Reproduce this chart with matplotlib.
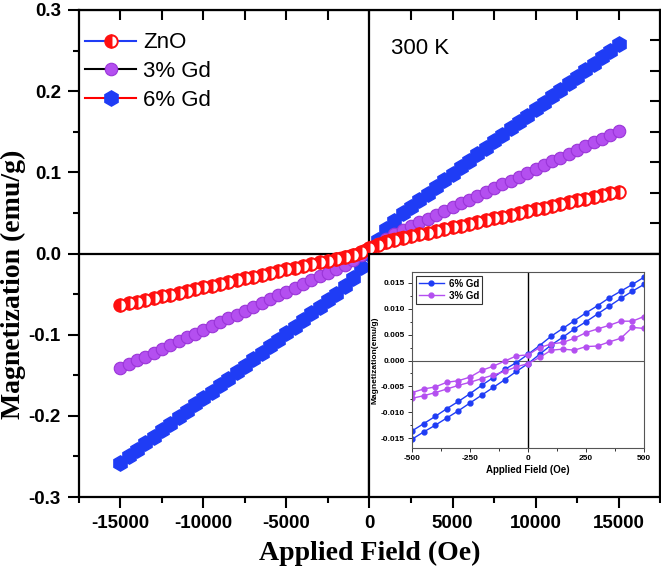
import matplotlib
matplotlib.use('Agg')
import matplotlib.pyplot as plt
from matplotlib.patches import Rectangle
from matplotlib.ticker import MultipleLocator, FixedLocator

plt.rcParams['axes.unicode_minus'] = False
plt.rcParams['font.family'] = 'Liberation Sans'

# main loop, field in Oe
field = [-15000, -14500, -14000, -13500, -13000, -12500, -12000, -11500, -11000, -10500,
         -10000, -9500, -9000, -8500, -8000, -7500, -7000, -6500, -6000, -5500,
         -5000, -4500, -4000, -3500, -3000, -2500, -2000, -1500, -1000, -500,
         0, 500, 1000, 1500, 2000, 2500, 3000, 3500, 4000, 4500,
         5000, 5500, 6000, 6500, 7000, 7500, 8000, 8500, 9000, 9500,
         10000, 10500, 11000, 11500, 12000, 12500, 13000, 13500, 14000, 14500, 15000]

m_zno = [-0.0637, -0.0615, -0.0593, -0.0571, -0.0549, -0.0527, -0.0505, -0.0483, -0.0461, -0.0439,
         -0.0417, -0.0395, -0.0373, -0.0351, -0.0329, -0.0307, -0.0285, -0.0263, -0.0241, -0.0219,
         -0.0197, -0.0175, -0.0153, -0.0131, -0.0109, -0.0087, -0.0065, -0.0041, -0.0015, 0.0019,
         0.0063, 0.0107, 0.0141, 0.0167, 0.0191, 0.0213, 0.0235, 0.0257, 0.0279, 0.0301,
         0.0323, 0.0345, 0.0367, 0.0389, 0.0411, 0.0433, 0.0455, 0.0477, 0.0499, 0.0521,
         0.0543, 0.0565, 0.0587, 0.0609, 0.0631, 0.0653, 0.0675, 0.0697, 0.0719, 0.0741, 0.0763]

m_gd3 = [-0.1410, -0.1363, -0.1316, -0.1269, -0.1222, -0.1175, -0.1128, -0.1081, -0.1034, -0.0987,
         -0.0940, -0.0893, -0.0846, -0.0799, -0.0752, -0.0705, -0.0658, -0.0611, -0.0564, -0.0517,
         -0.0470, -0.0423, -0.0376, -0.0329, -0.0282, -0.0234, -0.0186, -0.0136, -0.0082, -0.0020,
         0.0050, 0.0120, 0.0182, 0.0236, 0.0286, 0.0334, 0.0382, 0.0429, 0.0476, 0.0523,
         0.0570, 0.0617, 0.0664, 0.0711, 0.0758, 0.0805, 0.0852, 0.0899, 0.0946, 0.0993,
         0.1040, 0.1087, 0.1134, 0.1181, 0.1228, 0.1275, 0.1322, 0.1369, 0.1416, 0.1463, 0.1510]

m_gd6 = [-0.258, -0.250, -0.242, -0.234, -0.226, -0.218, -0.210, -0.202, -0.194, -0.186,
         -0.178, -0.170, -0.162, -0.154, -0.146, -0.138, -0.130, -0.122, -0.114, -0.106,
         -0.098, -0.090, -0.082, -0.0739, -0.0659, -0.0578, -0.0494, -0.0403, -0.0297, -0.0163,
         0.0, 0.0163, 0.0297, 0.0403, 0.0494, 0.0578, 0.0659, 0.0739, 0.082, 0.090,
         0.098, 0.106, 0.114, 0.122, 0.130, 0.138, 0.146, 0.154, 0.162, 0.170,
         0.178, 0.186, 0.194, 0.202, 0.210, 0.218, 0.226, 0.234, 0.242, 0.250, 0.258]

# ZnO return branch near zero field
field_zno_ret = [2000, 1750, 1500, 1250, 1000, 750, 500, 250, 0,
                 -250, -500, -750, -1000, -1250, -1500, -1750, -2000]
m_zno_ret = [0.0205, 0.0192, 0.0180, 0.0166, 0.0150, 0.0132, 0.0112, 0.0090, 0.0066,
             0.0042, 0.0020, 0.0000, -0.0018, -0.0032, -0.0044, -0.0055, -0.0066]

# inset, low field
field_in = [-500, -450, -400, -350, -300, -250, -200, -150, -100, -50, 0,
            50, 100, 150, 200, 250, 300, 350, 400, 450, 500]
gd6_up = [-0.0136, -0.0122, -0.0108, -0.0093, -0.0079, -0.0064, -0.0048, -0.0033, -0.0017, -0.0004, 0.0012,
          0.0029, 0.0047, 0.0062, 0.0077, 0.0092, 0.0106, 0.0121, 0.0134, 0.0147, 0.0161]
gd6_dn = [-0.0152, -0.0138, -0.0125, -0.0111, -0.0097, -0.0082, -0.0067, -0.0052, -0.0037, -0.0021, -0.0006,
          0.0012, 0.0030, 0.0045, 0.0061, 0.0075, 0.0090, 0.0105, 0.0120, 0.0134, 0.0147]
gd3_up = [-0.0062, -0.0055, -0.0051, -0.0042, -0.0039, -0.0032, -0.0019, -0.0011, -0.0001, 0.0009, 0.0011,
          0.0025, 0.0032, 0.0035, 0.0043, 0.0054, 0.0061, 0.0068, 0.0076, 0.0076, 0.0085]
gd3_dn = [-0.0073, -0.0068, -0.0062, -0.0055, -0.0048, -0.0042, -0.0035, -0.0028, -0.0021, -0.0012, -0.0006,
          0.0006, 0.0020, 0.0022, 0.0020, 0.0027, 0.0028, 0.0036, 0.0043, 0.0064, 0.0062]

blue = '#1f3cf5'
purple = '#b44ff0'
red = '#ff1010'

fig = plt.figure(figsize=(6.61, 5.70), dpi=100)
ax = fig.add_axes([0.1195, 0.128, 0.879, 0.8545])

ax.axhline(0, color='black', lw=1.6, zorder=1)
ax.axvline(0, color='black', lw=1.6, zorder=1)

ax.plot(field, m_gd6, '-', color='red', lw=1.5, marker='h', ms=11,
        mfc=blue, mec=blue, label='6% Gd', zorder=2)
ax.plot(field, m_gd3, '-', color='black', lw=1.5, marker='o', ms=9,
        mfc=purple, mec='#9a35d8', mew=0.8, label='3% Gd', zorder=2.1)
ax.plot(field_zno_ret, m_zno_ret, '-', color=blue, lw=1.2, marker='o', ms=8.5,
        fillstyle='left', mfc=red, mfcalt='white', mec=red, mew=1.2, zorder=2.2)
ax.plot(field, m_zno, '-', color=blue, lw=1.5, marker='o', ms=9,
        fillstyle='left', mfc=red, mfcalt='white', mec=red, mew=1.4, label='ZnO', zorder=2.3)

# white box holding the inset
ax.add_patch(Rectangle((0, -0.3), 17500, 0.3, facecolor='white', edgecolor='black',
                       lw=1.6, zorder=4))

ax.set_xlim(-17500, 17500)
ax.set_ylim(-0.3, 0.3)
ax.xaxis.set_major_locator(FixedLocator([-15000, -10000, -5000, 0, 5000, 10000, 15000]))
ax.xaxis.set_minor_locator(MultipleLocator(2500))
ax.yaxis.set_major_locator(MultipleLocator(0.1))
ax.yaxis.set_minor_locator(MultipleLocator(0.05))
ax.yaxis.set_major_formatter(plt.FuncFormatter(lambda v, p: '%.1f' % v))
ax.tick_params(which='both', direction='out', width=1.5, top=False, right=False)
ax.tick_params(which='major', length=8, labelsize=13.5, pad=5)
ax.tick_params(which='minor', length=4.5)
for lab in ax.get_xticklabels() + ax.get_yticklabels():
    lab.set_fontweight('bold')
for s in ax.spines.values():
    s.set_linewidth(1.6)

# inward ticks on the top and right edges
top = ax.secondary_xaxis('top')
top.set_xticks([-15000, -12500, -10000, -7500, -5000, -2500, 0, 2500, 5000, 7500, 10000, 12500, 15000])
top.tick_params(direction='in', length=7, width=1.5, labeltop=False)
right = ax.secondary_yaxis('right')
right.set_yticks([-0.2625, -0.225, -0.1875, -0.15, -0.1125, -0.075, -0.0375, 0,
                  0.0375, 0.075, 0.1125, 0.15, 0.1875, 0.225, 0.2625])
right.tick_params(direction='in', length=7, width=1.5, labelright=False)

ax.set_xlabel('Applied Field (Oe)', family='Liberation Serif', fontweight='bold',
              fontsize=20, labelpad=6)
ax.set_ylabel('Magnetization (emu/g)', family='Liberation Serif', fontweight='bold',
              fontsize=20)
ax.yaxis.set_label_coords(-0.092, 0.437)

ax.text(1300, 0.253, '300 K', fontsize=16, va='center', ha='left')

h, l = ax.get_legend_handles_labels()
order = [2, 1, 0]
ax.legend([h[i] for i in order], [l[i] for i in order], loc='upper left',
          bbox_to_anchor=(0.003, 0.963), borderaxespad=0, borderpad=0.2,
          frameon=False, fontsize=16, handlelength=2.3, handletextpad=0.3,
          labelspacing=0.35)

# inset
ins = fig.add_axes([0.6233, 0.2140, 0.3510, 0.3088])
ins.set_zorder(5)
ins.axhline(0, color='#555555', lw=0.8, zorder=1)
ins.axvline(0, color='black', lw=1.0, zorder=1)
ins.plot(field_in, gd6_up, '-o', color=blue, lw=1, ms=3.5, label='6% Gd')
ins.plot(field_in, gd6_dn, '-o', color=blue, lw=1, ms=3.5)
ins.plot(field_in, gd3_up, '-o', color=purple, lw=1, ms=3.5, label='3% Gd')
ins.plot(field_in, gd3_dn, '-o', color=purple, lw=1, ms=3.5)
ins.set_xlim(-500, 500)
ins.set_ylim(-0.0169, 0.0171)
ins.xaxis.set_major_locator(MultipleLocator(250))
ins.xaxis.set_minor_locator(MultipleLocator(125))
ins.yaxis.set_major_locator(MultipleLocator(0.005))
ins.yaxis.set_minor_locator(MultipleLocator(0.0025))
ins.yaxis.set_major_formatter(plt.FuncFormatter(lambda v, p: '%.3f' % v))
ins.tick_params(which='both', direction='out', width=0.7, labelsize=6, pad=2, colors='#333333')
ins.tick_params(which='major', length=3)
ins.tick_params(which='minor', length=1.8)
for lab in ins.get_xticklabels() + ins.get_yticklabels():
    lab.set_fontweight('bold')
    lab.set_color('black')
for s in ins.spines.values():
    s.set_linewidth(0.8)
    s.set_color('#555555')
ins.set_xlabel('Applied Field (Oe)', fontsize=7, fontweight='bold', labelpad=2)
ins.set_ylabel('Magnetization(emu/g)', fontsize=6, fontweight='bold', labelpad=2)
leg = ins.legend(loc='upper left', prop={'weight': 'bold', 'size': 7},
                 fancybox=False, edgecolor='black', borderaxespad=0.4, borderpad=0.3,
                 handlelength=2.6, handletextpad=0.5, labelspacing=0.2)
leg.get_frame().set_linewidth(0.8)

fig.savefig('out.png', dpi=100)
